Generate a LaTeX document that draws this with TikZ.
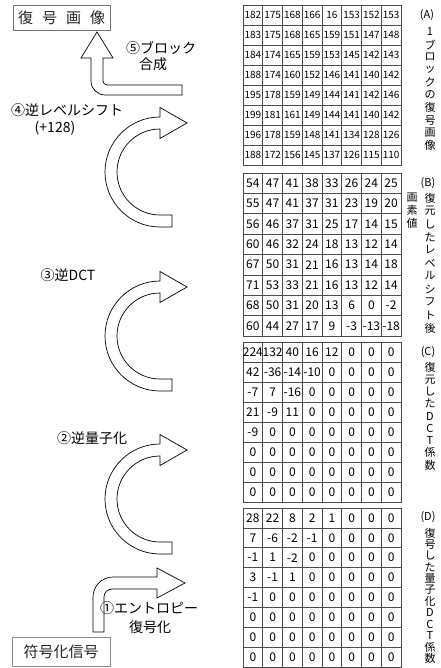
\documentclass[tikz,border=0pt]{standalone}
\usepackage{fontspec}
\newfontfamily\jp{Noto Sans CJK JP}
\tikzset{
  arrowshape/.style={draw=black, line width=0.7pt, fill=white, line join=miter},
  gridline/.style={draw=black!70, line width=0.6pt},
  numA/.style={font=\jp\fontsize{10}{10}\selectfont, inner sep=0pt},
  numB/.style={font=\jp\fontsize{12}{12}\selectfont, inner sep=0pt},
  lab/.style={font=\jp\fontsize{14}{16}\selectfont, inner sep=0pt, align=center},
  vch/.style={font=\jp\fontsize{11}{11}\selectfont, inner sep=0pt},
  framebox/.style={draw=black!55, line width=0.6pt, inner sep=0pt, font=\jp\fontsize{15}{15}\selectfont, text=black!85}
}
\newcommand\gridtab[2]{%
  \draw[gridline] (243,#1) rectangle (401,{#1+8*#2});
  \foreach \k in {1,...,7} {%
    \draw[gridline] ({243+19.75*\k},#1) -- ({243+19.75*\k},{#1+8*#2});
    \draw[gridline] (243,{#1+#2*\k}) -- (401,{#1+#2*\k});
  }%
}
\newcommand\filltab[5]{%
  \foreach \row [count=\r] in {#5} {%
    \foreach \v [count=\c] in \row {%
      \node[#4] (#1-\r-\c) at ({243+19.75*(\c-0.5)},{#2+#3*(\r-0.5)}) {\v};
    }%
  }%
}
\newcommand\vlab[5]{%
  \foreach \ch [count=\i] in {#5} {\node[vch] (#1\i) at (#2,{#3+#4*(\i-1)}) {\ch};}%
}
\newcommand\carrow[1]{%
  \draw[arrowshape] (172,{#1+55}) -- (160,{#1+55})
    arc[start angle=90,end angle=270,x radius=55,y radius=55]
    -- (160,{#1-64.5}) -- (187,{#1-49}) -- (160,{#1-33.5}) -- (160,{#1-43})
    arc[start angle=270,end angle=90,x radius=43,y radius=43]
    -- (172,{#1+43}) -- cycle;
}
\begin{document}
\begin{tikzpicture}[x=1pt,y=-1pt]
\useasboundingbox (0,0) rectangle (440,668);
\fill[white] (0,0) rectangle (440,668);

% left boxes
\node[framebox, minimum width=97pt, minimum height=25pt] (decimg) at (61.5,17.5)
  {復\hspace{9pt}号\hspace{9pt}画\hspace{9pt}像};
\node[framebox, draw=black!45, minimum width=98pt, minimum height=29pt] (codesig) at (61,651.5)
  {符号化信号};

% arrow 5 (block synthesis)
\draw[arrowshape] (182,85) -- (107,85) arc[start angle=90,end angle=180,radius=4]
  -- (103,58) -- (113,58) -- (97,32) -- (81,58) -- (91,58) -- (91,81)
  arc[start angle=180,end angle=90,radius=14] -- (182,95) -- cycle;
% curved arrows 4,3,2
\carrow{172}
\carrow{336}
\carrow{499}
% arrow 1
\draw[arrowshape] (93,632) -- (93,597) arc[start angle=180,end angle=270,radius=20]
  -- (157,577) -- (157,568) -- (185,583) -- (157,598) -- (157,589) -- (112,589)
  arc[start angle=270,end angle=180,radius=8] -- (104,632) -- cycle;

% step labels
\node[lab] (l5a) at (161,48) {⑤ブロック};
\node[lab] (l5b) at (153,64) {合成};
\node[lab] (l4a) at (67,110) {④逆レベルシフト};
\node[lab] (l4b) at (55,128) {(+128)};
\node[lab] (l3) at (68,275) {③逆DCT};
\node[lab] (l2) at (92,438) {②逆量子化};
\node[lab] (l1a) at (149,608) {①エントロピー};
\node[lab] (l1b) at (150,627) {復号化};

% tables
\gridtab{5}{20}
\gridtab{173}{20.375}
\gridtab{342}{20}
\gridtab{508}{19.875}

\filltab{A}{5}{20}{numA}{{182,175,168,166,16,153,152,153},{183,175,168,165,159,151,147,148},{184,174,165,159,153,145,142,143},{188,174,160,152,146,141,140,142},{195,178,159,149,144,141,142,146},{199,181,161,149,144,141,140,142},{196,178,159,148,141,134,128,126},{188,172,156,145,137,126,115,110}}
\filltab{B}{173}{20.375}{numB}{{54,47,41,38,33,26,24,25},{55,47,41,37,31,23,19,20},{56,46,37,31,25,17,14,15},{60,46,32,24,18,13,12,14},{67,50,31,21,16,13,14,18},{71,53,33,21,16,13,12,14},{68,50,31,20,13,6,0,-2},{60,44,27,17,9,-3,-13,-18}}
\filltab{C}{342}{20}{numB}{{224,132,40,16,12,0,0,0},{42,-36,-14,-10,0,0,0,0},{-7,7,-16,0,0,0,0,0},{21,-9,11,0,0,0,0,0},{-9,0,0,0,0,0,0,0},{0,0,0,0,0,0,0,0},{0,0,0,0,0,0,0,0},{0,0,0,0,0,0,0,0}}
\filltab{D}{508}{19.875}{numB}{{28,22,8,2,1,0,0,0},{7,-6,-2,-1,0,0,0,0},{-1,1,-2,0,0,0,0,0},{3,-1,1,0,0,0,0,0},{-1,0,0,0,0,0,0,0},{0,0,0,0,0,0,0,0},{0,0,0,0,0,0,0,0},{0,0,0,0,0,0,0,0}}

% vertical labels
\node[vch] (labA) at (427,15) {(A)};
\vlab{vA}{430}{32}{12.6}{1,ブ,ロ,ッ,ク,の,復,号,画,像}
\node[vch] (labB) at (428,183) {(B)};
\vlab{vB}{430}{198}{13}{復,元,し,た,レ,ベ,ル,シ,フ,ト,後}
\vlab{vBb}{412}{198}{12.5}{画,素,値}
\node[vch] (labC) at (428,352) {(C)};
\vlab{vC}{430}{367}{12.25}{復,元,し,た,D,C,T,係,数}
\node[vch] (labD) at (428,517) {(D)};
\vlab{vD}{430}{533}{11.4}{復,号,し,た,量,子,化,D,C,T,係,数}
\end{tikzpicture}
\end{document}
